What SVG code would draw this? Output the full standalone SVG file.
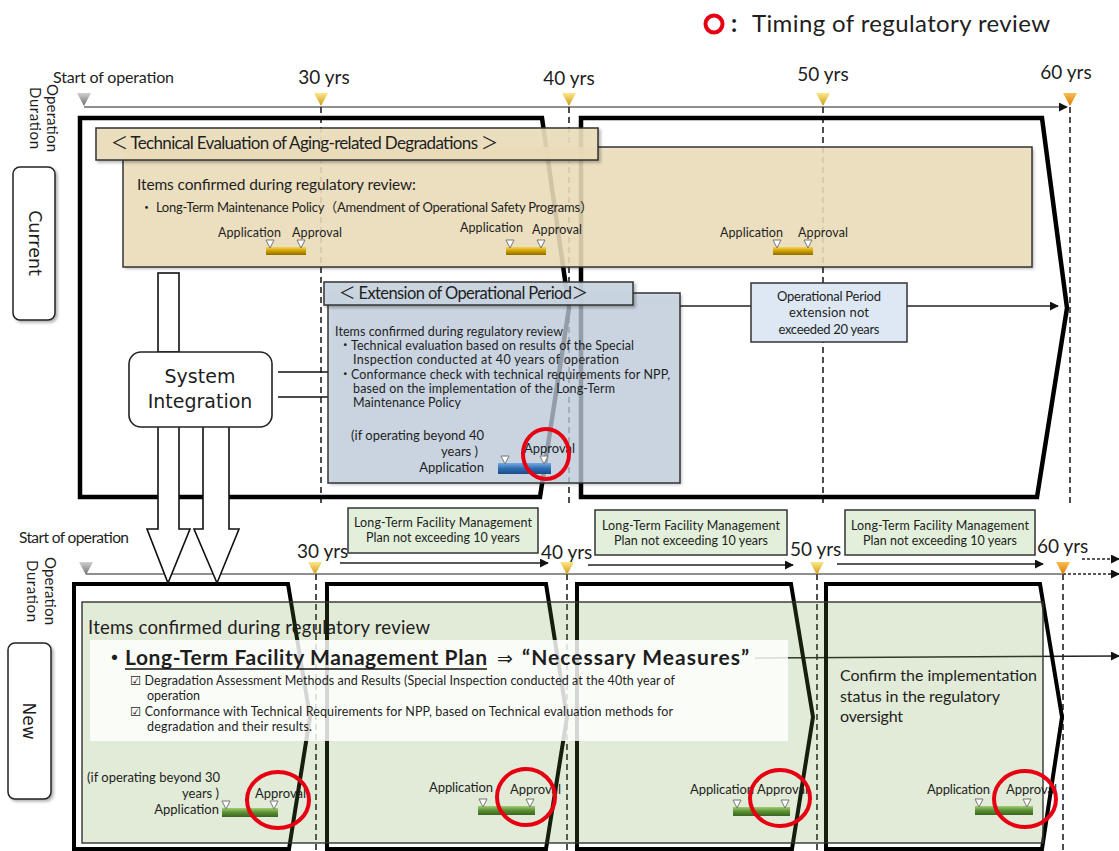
<svg xmlns="http://www.w3.org/2000/svg" width="1119" height="851" viewBox="0 0 1119 851">
<defs>
<style>
text{font-family:Lato,"Noto Sans CJK JP","DejaVu Sans",sans-serif;fill:#1e1e1e}
.v{font-family:"DejaVu Sans",Verdana,sans-serif}
.chev{fill:none;stroke:#000;stroke-width:4.5;stroke-linejoin:miter}
.chevb{fill:none;stroke:#000;stroke-width:4;stroke-linejoin:miter}
.dash{stroke:#222;stroke-width:1.6;stroke-dasharray:6 4;fill:none}
.tl{stroke:#6a6a6a;stroke-width:1.5;fill:none}
.arr{stroke:#222;stroke-width:1.5;fill:none;marker-end:url(#ah)}
.mk{fill:#fff;stroke:#777;stroke-width:1}
.rc{fill:none;stroke:#e60012;stroke-width:4}
.hollow{fill:#fff;stroke:#111;stroke-width:1.6}
.box{stroke:#333;stroke-width:1.5}
.s12{font-size:12.5px}
.s13{font-size:13px}
</style>
<marker id="ah" viewBox="0 0 10 10" refX="9" refY="5" markerWidth="9" markerHeight="9" markerUnits="userSpaceOnUse" orient="auto"><path d="M0,0 L10,5 L0,10 z" fill="#111"/></marker>
<linearGradient id="gY" x1="0" y1="0" x2="0" y2="1"><stop offset="0" stop-color="#fde68a"/><stop offset="1" stop-color="#c99a10"/></linearGradient>
<linearGradient id="gG" x1="0" y1="0" x2="0" y2="1"><stop offset="0" stop-color="#d0d0d0"/><stop offset="1" stop-color="#6e6e6e"/></linearGradient>
<linearGradient id="gO" x1="0" y1="0" x2="0" y2="1"><stop offset="0" stop-color="#fbbf4d"/><stop offset="1" stop-color="#d9740a"/></linearGradient>
<linearGradient id="bGold" x1="0" y1="0" x2="0" y2="1"><stop offset="0" stop-color="#f3d35a"/><stop offset="0.45" stop-color="#d2a400"/><stop offset="1" stop-color="#8f6c00"/></linearGradient>
<linearGradient id="bBlue" x1="0" y1="0" x2="0" y2="1"><stop offset="0" stop-color="#74aae2"/><stop offset="0.5" stop-color="#2e6db4"/><stop offset="1" stop-color="#1c4c86"/></linearGradient>
<linearGradient id="bGreen" x1="0" y1="0" x2="0" y2="1"><stop offset="0" stop-color="#9fcf70"/><stop offset="0.5" stop-color="#5b8f34"/><stop offset="1" stop-color="#3a6520"/></linearGradient>
<filter id="sh" x="-5%" y="-5%" width="115%" height="125%"><feDropShadow dx="2" dy="2" stdDeviation="1.5" flood-color="#000" flood-opacity="0.3"/></filter>
<path id="tri" d="M-7,0 L7,0 L0,13 Z"/>
<path id="st" d="M-4,0 L4,0 L0,8 Z"/>
</defs>
<rect width="1119" height="851" fill="#fff"/>

<g id="legend">
<circle cx="714" cy="24" r="8.5" class="rc" stroke-width="3.5"/>
<text x="731" y="32" font-size="24" font-weight="bold">:</text>
<text x="752" y="32" font-size="24" textLength="298">Timing of regulatory review</text>
</g>

<g id="timeline-current">
<text x="53" y="83" font-size="16" textLength="121">Start of operation</text>
<text x="324" y="84" font-size="19" text-anchor="middle">30 yrs</text>
<text x="569" y="85" font-size="19" text-anchor="middle">40 yrs</text>
<text x="823" y="81" font-size="19" text-anchor="middle">50 yrs</text>
<text x="1066" y="79" font-size="19" text-anchor="middle">60 yrs</text>
<text transform="translate(47,118) rotate(90)" font-size="15" text-anchor="middle" textLength="68">Operation</text>
<text transform="translate(30,118) rotate(90)" font-size="15" text-anchor="middle" textLength="62">Duration</text>
<line x1="84" y1="107" x2="1067" y2="107" class="tl" marker-end="url(#ah)"/>
<path class="dash" d="M321,107V505M569,107V505M823,107V505M1070,107V505"/>
<use href="#tri" x="84" y="93" fill="url(#gG)"/>
<use href="#tri" x="321" y="93" fill="url(#gY)"/>
<use href="#tri" x="569" y="93" fill="url(#gY)"/>
<use href="#tri" x="823" y="93" fill="url(#gY)"/>
<use href="#tri" x="1070" y="93" fill="url(#gO)"/>
</g>

<g id="label-current">
<rect x="13" y="167" width="42" height="153" rx="7" fill="#fff" stroke="#222" stroke-width="1.5" filter="url(#sh)"/>
<text class="v" transform="translate(29,243) rotate(90)" font-size="17.5" text-anchor="middle">Current</text>
</g>

<g id="period-current-1"><path class="chev" d="M80,118 H542 L569,308 L540,497 H80 Z"/></g>
<g id="period-current-2"><path class="chev" d="M581,118 H1042 L1067,308 L1037,497 H581 Z"/></g>

<g id="aging-evaluation">
<rect x="123" y="147" width="909" height="120" fill="#eddfbb" fill-opacity="0.86" filter="url(#sh)"/>
<path d="M597,147 H1032 V267 H123 V160" fill="none" class="box"/>
<rect x="96" y="128" width="502" height="32" fill="#eddfbb" fill-opacity="0.9" class="box" filter="url(#sh)"/>
<text x="111" y="149" font-size="17" textLength="387">＜ Technical Evaluation of Aging-related Degradations ＞</text>
<text x="137" y="190" font-size="15.5" textLength="279">Items confirmed during regulatory review:</text>
<text x="140" y="212" font-size="13" textLength="453">・ Long-Term Maintenance Policy（Amendment of Operational Safety Programs）</text>
<text x="218" y="237" class="s12" textLength="63">Application</text>
<text x="292" y="237" class="s12" textLength="50">Approval</text>
<rect x="266" y="247" width="40" height="8" fill="url(#bGold)"/>
<use href="#st" x="270" y="240" class="mk"/><use href="#st" x="301" y="240" class="mk"/>
<text x="460" y="232" class="s12" textLength="63">Application</text>
<text x="532" y="234" class="s12" textLength="50">Approval</text>
<rect x="506" y="247" width="40" height="8" fill="url(#bGold)"/>
<use href="#st" x="510" y="240" class="mk"/><use href="#st" x="541" y="240" class="mk"/>
<text x="720" y="237" class="s12" textLength="63">Application</text>
<text x="798" y="237" class="s12" textLength="50">Approval</text>
<rect x="773" y="247" width="40" height="8" fill="url(#bGold)"/>
<use href="#st" x="777" y="240" class="mk"/><use href="#st" x="808" y="240" class="mk"/>
</g>

<g id="connectors">
<line x1="680" y1="306" x2="751" y2="306" stroke="#222" stroke-width="1.5"/>
<line x1="907" y1="306" x2="1058" y2="306" class="arr"/>
<line x1="278" y1="372" x2="328" y2="372" stroke="#111" stroke-width="1.6"/>
<line x1="278" y1="397" x2="328" y2="397" stroke="#111" stroke-width="1.6"/>
<line x1="340" y1="563" x2="548" y2="563" class="arr"/>
<line x1="588" y1="565" x2="793" y2="565" class="arr"/>
<line x1="837" y1="564" x2="1043" y2="564" class="arr"/>
<line x1="1082" y1="559" x2="1119" y2="559" class="arr" stroke-dasharray="3 2"/>
<line x1="755" y1="658" x2="1119" y2="656" class="arr" stroke-width="1.3"/>
</g>

<g id="extension-period">
<rect x="328" y="293" width="352" height="190" fill="#c2d0df" fill-opacity="0.72" filter="url(#sh)"/>
<path d="M633,293 H680 V483 H328 V305" fill="none" class="box"/>
<rect x="324" y="282" width="309" height="23" fill="#c9d5e1" fill-opacity="0.92" class="box" filter="url(#sh)"/>
<text x="339" y="299" font-size="16.5" textLength="249">＜ Extension of Operational Period＞</text>
<text x="335" y="336" class="s12" textLength="228">Items confirmed during regulatory review</text>
<text x="339" y="350" class="s12">・</text>
<text x="351" y="350" class="s12" textLength="283">Technical evaluation based on results of the Special</text>
<text x="353" y="364" class="s12" textLength="266">Inspection conducted at 40 years of operation</text>
<text x="339" y="379" class="s12">・</text>
<text x="351" y="379" class="s12" textLength="319">Conformance check with technical requirements for NPP,</text>
<text x="353" y="393" class="s12" textLength="262">based on the implementation of the Long-Term</text>
<text x="353" y="407" class="s12" textLength="108">Maintenance Policy</text>
<text x="484" y="440" class="s13" text-anchor="end">(if operating beyond 40</text>
<text x="478" y="456" class="s13" text-anchor="end">years )</text>
<text x="484" y="472" class="s13" text-anchor="end">Application</text>
<text x="524" y="453" class="s13">Approval</text>
<rect x="498" y="463" width="53" height="11" fill="url(#bBlue)"/>
<use href="#st" x="505" y="456" class="mk"/><use href="#st" x="544" y="456" class="mk"/>
<ellipse cx="546" cy="454" rx="23" ry="25" class="rc"/>
</g>

<g id="extension-limit">
<rect x="751" y="283" width="156" height="59" fill="#dde8f4" class="box"/>
<text x="829" y="301" class="s13" text-anchor="middle" textLength="104">Operational Period</text>
<text x="829" y="317" class="s13" text-anchor="middle" textLength="80">extension not</text>
<text x="829" y="334" class="s13" text-anchor="middle" textLength="101">exceeded  20 years</text>
</g>

<g id="timeline-new">
<text x="19" y="543" font-size="15.5" textLength="110">Start of operation</text>
<text x="297" y="558" font-size="19">30 yrs</text>
<text x="541" y="559" font-size="19">40 yrs</text>
<text x="790" y="556" font-size="19">50 yrs</text>
<text x="1037" y="553" font-size="19">60 yrs</text>
<text transform="translate(45,591) rotate(90)" font-size="15" text-anchor="middle" textLength="68">Operation</text>
<text transform="translate(27,591) rotate(90)" font-size="15" text-anchor="middle" textLength="62">Duration</text>
<line x1="86" y1="574" x2="1063" y2="574" class="tl"/>
<line x1="1063" y1="574" x2="1119" y2="574" class="arr" stroke-dasharray="3 2"/>
<path class="dash" d="M316,574V851M567,574V851M817,574V851M1063,574V851"/>
<use href="#tri" x="86" y="562" fill="url(#gG)"/>
<use href="#tri" x="315" y="562" fill="url(#gY)"/>
<use href="#tri" x="567" y="562" fill="url(#gY)"/>
<use href="#tri" x="817" y="562" fill="url(#gY)"/>
<use href="#tri" x="1063" y="562" fill="url(#gO)"/>
</g>

<g id="plan-box-1">
<rect x="348" y="508" width="190" height="45" fill="#e2efda" class="box"/>
<text x="443" y="527" class="s12" text-anchor="middle" textLength="178">Long-Term Facility Management</text>
<text x="443" y="542" class="s12" text-anchor="middle" textLength="154">Plan not exceeding 10 years</text>
</g>
<g id="plan-box-2">
<rect x="595" y="510" width="192" height="45" fill="#e2efda" class="box"/>
<text x="691" y="530" class="s12" text-anchor="middle" textLength="178">Long-Term Facility Management</text>
<text x="691" y="545" class="s12" text-anchor="middle" textLength="154">Plan not exceeding 10 years</text>
</g>
<g id="plan-box-3">
<rect x="845" y="510" width="190" height="45" fill="#e2efda" class="box"/>
<text x="940" y="530" class="s12" text-anchor="middle" textLength="178">Long-Term Facility Management</text>
<text x="940" y="545" class="s12" text-anchor="middle" textLength="154">Plan not exceeding 10 years</text>
</g>

<g id="label-new">
<rect x="8" y="643" width="43" height="156" rx="7" fill="#fff" stroke="#222" stroke-width="1.5" filter="url(#sh)"/>
<text class="v" transform="translate(23,721) rotate(90)" font-size="17" text-anchor="middle">New</text>
</g>

<g id="period-new-1"><path class="chevb" d="M74,584 H288 L310,717 L289,849 H74 Z"/></g>
<g id="period-new-2"><path class="chevb" d="M327,584 H546 L567,717 L546,849 H327 Z"/></g>
<g id="period-new-3"><path class="chevb" d="M577,584 H791 L813,717 L792,849 H577 Z"/></g>
<g id="period-new-4"><path class="chevb" d="M826,584 H1040 L1062,717 L1042,849 H826 Z"/></g>

<g id="new-review">
<rect x="82" y="602" width="961" height="241" fill="#6e9b37" fill-opacity="0.2" stroke="#333" stroke-width="1.4"/>
<text x="88" y="634" font-size="18.5" textLength="342">Items confirmed during regulatory review</text>
<rect x="90" y="640" width="698" height="101" fill="#fff" fill-opacity="0.82"/>
<text x="104" y="665" font-size="21" font-weight="bold">・</text>
<text x="125" y="665" font-size="21" font-weight="bold" textLength="362">Long-Term Facility Management Plan</text>
<line x1="125" y1="669" x2="487" y2="669" stroke="#111" stroke-width="1.6"/>
<text x="497" y="665" font-size="19" class="v">⇒</text>
<text x="522" y="665" font-size="21" font-weight="bold" textLength="227">“Necessary Measures”</text>
<text x="130" y="685" class="s12" textLength="545">☑ Degradation Assessment Methods and Results (Special Inspection conducted at the 40th year of</text>
<text x="147" y="700" class="s12">operation</text>
<text x="130" y="716" class="s12" textLength="543">☑ Conformance with Technical Requirements for NPP, based on Technical evaluation methods for</text>
<text x="147" y="731" class="s12" textLength="165">degradation and their results.</text>
<text x="840" y="681" font-size="16" textLength="197">Confirm the implementation</text>
<text x="840" y="702" font-size="16" textLength="160">status in the regulatory</text>
<text x="840" y="722" font-size="16" textLength="63">oversight</text>
<text x="220" y="782" class="s13" text-anchor="end">(if operating beyond 30</text>
<text x="219" y="798" class="s13" text-anchor="end">years )</text>
<text x="219" y="814" class="s13" text-anchor="end">Application</text>
<text x="255" y="798" class="s13">Approval</text>
<rect x="222" y="808" width="56" height="9" fill="url(#bGreen)"/>
<use href="#st" x="226" y="801" class="mk"/><use href="#st" x="274" y="801" class="mk"/>
<ellipse cx="278" cy="800" rx="31" ry="28" class="rc"/>
<text x="429" y="792" class="s13" textLength="64">Application</text>
<text x="510" y="794" class="s13">Approval</text>
<rect x="478" y="806" width="57" height="9" fill="url(#bGreen)"/>
<use href="#st" x="483" y="799" class="mk"/><use href="#st" x="530" y="799" class="mk"/>
<ellipse cx="526" cy="797" rx="29" ry="28" class="rc"/>
<text x="690" y="794" class="s13" textLength="64">Application</text>
<text x="757" y="794" class="s13">Approval</text>
<rect x="733" y="807" width="57" height="9" fill="url(#bGreen)"/>
<use href="#st" x="737" y="800" class="mk"/><use href="#st" x="785" y="800" class="mk"/>
<ellipse cx="780" cy="798" rx="30" ry="28" class="rc"/>
<text x="927" y="794" class="s13" textLength="63">Application</text>
<text x="1006" y="794" class="s13">Approval</text>
<rect x="975" y="806" width="58" height="9" fill="url(#bGreen)"/>
<use href="#st" x="979" y="799" class="mk"/><use href="#st" x="1027" y="799" class="mk"/>
<ellipse cx="1025" cy="799" rx="31" ry="28" class="rc"/>
</g>

<g id="system-integration">
<rect x="158" y="273" width="21" height="79" class="hollow"/>
<polygon points="158,426 158,529 147,529 168,583 190,529 179,529 179,426" class="hollow"/>
<polygon points="203,426 203,529 194,529 217,583 239,529 229,529 229,426" class="hollow"/>
<rect x="129" y="352" width="143" height="75" rx="12" fill="#fff" stroke="#222" stroke-width="1.6"/>
<text class="v" x="200" y="383" font-size="19" text-anchor="middle">System</text>
<text class="v" x="200" y="408" font-size="19" text-anchor="middle">Integration</text>
</g>
</svg>
